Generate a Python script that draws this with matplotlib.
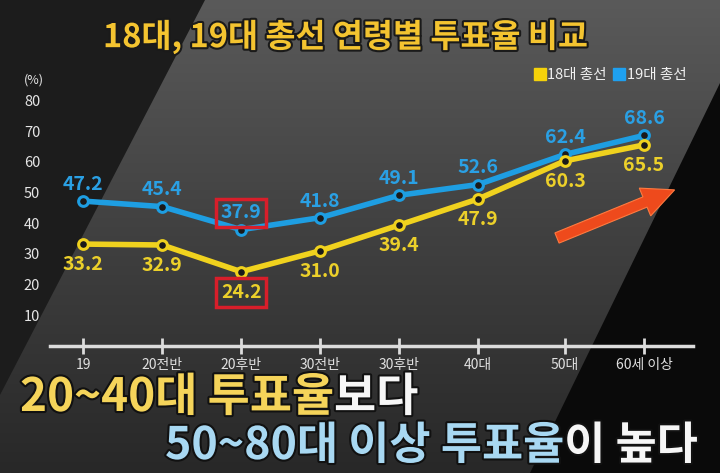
import numpy as np
import matplotlib
matplotlib.use("Agg")
import matplotlib.pyplot as plt
import matplotlib.patheffects as pe
from matplotlib.patches import Polygon, FancyArrow
from matplotlib.lines import Line2D

plt.rcParams['font.family'] = ['Noto Sans CJK KR', 'DejaVu Sans']

# 데이터
ages = ['19', '20전반', '20후반', '30전반', '30후반', '40대', '50대', '60세 이상']
turnout_18 = [33.2, 32.9, 24.2, 31.0, 39.4, 47.9, 60.3, 65.5]
turnout_19 = [47.2, 45.4, 37.9, 41.8, 49.1, 52.6, 62.4, 68.6]
yticks = [10, 20, 30, 40, 50, 60, 70, 80]
highlight = 2  # 20후반

# 배치 (x 간격이 원본에서 일정하지 않음)
xpos = [0, 1, 2, 3, 4, 5, 6.1, 7.1]

YEL = '#f0d21e'
BLU = '#1e9ee2'
YEL_TXT = '#ecd02a'
BLU_TXT = '#2aa0e4'
RED = '#d81e2a'

W, H = 720, 473
fig = plt.figure(figsize=(7.2, 4.73), dpi=100)

# 배경 (픽셀 좌표)
bg = fig.add_axes([0, 0, 1, 1])
bg.set_xlim(0, W)
bg.set_ylim(H, 0)
bg.axis('off')
grad = np.linspace(0, 1, 256).reshape(-1, 1)
cmap = matplotlib.colors.LinearSegmentedColormap.from_list('g', ['#5a5a5a', '#404040', '#282828'])
bg.imshow(grad, extent=[0, W, H, 0], cmap=cmap, aspect='auto', zorder=0)
bg.add_patch(Polygon([[0, 0], [205, 0], [0, 395]], closed=True, fc='#1c1c1c', ec='none', zorder=1))
bg.add_patch(Polygon([[720, 83], [720, H], [530, H]], closed=True, fc='#0a0a0a', ec='none', zorder=1))

# 빨간 화살표
bg.add_patch(FancyArrow(557, 238, 88, -36, width=11, head_width=30, head_length=32,
                        length_includes_head=False, fc='#ee4a1c', ec='#ff7a40', lw=0.8, zorder=2))

# 제목
fig.text(345 / W, 1 - 37 / H, '18대, 19대 총선 연령별 투표율 비교', ha='center', va='center',
         fontsize=23.5, fontweight='bold', color='#f4c430',
         path_effects=[pe.withStroke(linewidth=3, foreground='#1a1a1a')])

bg.text(34, 80, '(%)', ha='center', va='center', fontsize=9, color='#e6e6e6')

# 차트
ax = fig.add_axes([50 / W, 127 / H, (693 - 50) / W, 85 * 3.07 / H])
ax.patch.set_alpha(0)
ax.set_xlim(-0.42, 7.72)
ax.set_ylim(0, 85)
for s in ['top', 'right', 'left']:
    ax.spines[s].set_visible(False)
ax.spines['bottom'].set_color('#dcdcdc')
ax.spines['bottom'].set_linewidth(2.5)

ax.plot(xpos, turnout_19, color=BLU, lw=4, marker='o', ms=7, mfc='#1a1a1a', mec=BLU, mew=2.2,
        solid_joinstyle='round', zorder=3)
ax.plot(xpos, turnout_18, color=YEL, lw=4, marker='o', ms=7, mfc='#1a1a1a', mec=YEL, mew=2.2,
        solid_joinstyle='round', zorder=3)

for i, (x, a, b) in enumerate(zip(xpos, turnout_18, turnout_19)):
    box = dict(boxstyle='square,pad=0.25', fc='none', ec=RED, lw=2.5) if i == highlight else None
    ax.annotate(f'{b:.1f}', (x, b), xytext=(0, 12), textcoords='offset points',
                ha='center', va='center', fontsize=14, fontweight='bold', color=BLU_TXT, bbox=box)
    ax.annotate(f'{a:.1f}', (x, a), xytext=(0, -15), textcoords='offset points',
                ha='center', va='center', fontsize=14, fontweight='bold', color=YEL_TXT, bbox=box)

ax.set_xticks(xpos)
ax.set_xticklabels(ages)
ax.tick_params(axis='x', direction='inout', length=11, width=2, color='#dcdcdc',
               labelcolor='#e0e0e0', labelsize=10, pad=3)
ax.set_yticks(yticks)
ax.tick_params(axis='y', length=0, labelcolor='#e6e6e6', labelsize=10.5, pad=7)

handles = [Line2D([], [], ls='none', marker='s', ms=9, color='#f5d20a', label='18대 총선'),
           Line2D([], [], ls='none', marker='s', ms=9, color='#1ea0f0', label='19대 총선')]
leg = fig.legend(handles=handles, loc='upper right', bbox_to_anchor=(692 / W, 1 - 62 / H), ncol=2,
                 frameon=False, fontsize=10.5, handlelength=0.7, handletextpad=0.15,
                 columnspacing=0.5, borderaxespad=0)
for t in leg.get_texts():
    t.set_color('#f0f0f0')


# 하단 자막 (여러 색)
def color_line(x, y, parts, size):
    shadow = [pe.withStroke(linewidth=3, foreground='#111111')]
    prev = bg.text(x, y, parts[0][0], color=parts[0][1], fontsize=size, fontweight='bold',
                   ha='left', va='bottom', path_effects=shadow, zorder=5)
    for s, c in parts[1:]:
        prev = bg.annotate(s, xy=(1, 0), xycoords=prev, ha='left', va='bottom', color=c,
                           fontsize=size, fontweight='bold', path_effects=shadow, zorder=5)


LY = '#f5d45a'
LB = '#a8d8f2'
WH = '#f6f6f6'
color_line(20, 421, [('20~40대 ', LY), ('투표율', LY), ('보다', WH)], 33)
color_line(165, 469, [('50~80대 이상 ', LB), ('투표율', LB), ('이 높다', WH)], 32.2)

plt.savefig('out.png', dpi=100)
